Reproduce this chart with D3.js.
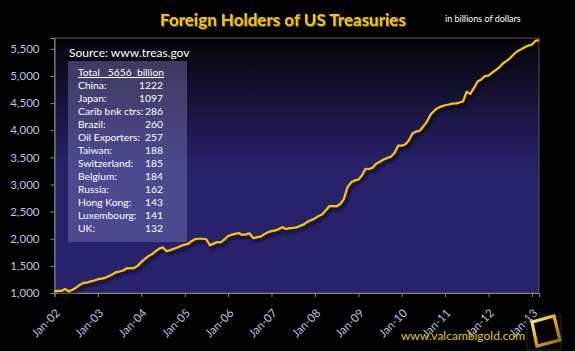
<!DOCTYPE html>
<html>
<head>
<meta charset="utf-8">
<script src="https://cdn.jsdelivr.net/npm/d3@7"></script>
<style>
  html, body { margin:0; padding:0; background:#000; }
  svg { display:block; font-family: Lato, "Open Sans", sans-serif; }
</style>
</head>
<body>
<div id="chart"></div>
<script>
// monthly totals, Jan-02 .. Mar-13 (billions of dollars)
const startMonth = new Date(2002, 0, 1);
const holdings = [
  1035,1040,1040,1075,1030,1060,1100,1150,1185,1190,1215,1230,
  1255,1265,1280,1310,1340,1385,1395,1415,1455,1460,1460,1500,
  1570,1630,1680,1715,1770,1820,1840,1770,1790,1815,1840,1870,
  1890,1910,1960,1995,2000,2000,1990,1880,1910,1940,1935,1990,
  2050,2075,2090,2105,2070,2080,2100,2010,2030,2040,2085,2120,
  2140,2155,2175,2215,2180,2195,2200,2210,2240,2265,2315,2345,
  2375,2420,2445,2520,2600,2600,2600,2640,2730,2950,3040,3075,
  3090,3170,3290,3285,3310,3385,3420,3460,3490,3510,3580,3715,
  3715,3740,3810,3940,3975,3990,4070,4160,4290,4360,4410,4440,
  4460,4475,4490,4495,4510,4530,4710,4670,4780,4900,4935,5000,
  5005,5060,5110,5160,5230,5280,5330,5400,5460,5490,5530,5560,
  5580,5650,5656
];

const yTicks = [1000,1500,2000,2500,3000,3500,4000,4500,5000,5500];

const holderNames  = ["China:","Japan:","Carib bnk ctrs:","Brazil:","Oil Exporters:","Taiwan:",
                      "Switzerland:","Belgium:","Russia:","Hong Kong:","Luxembourg:","UK:"];
const holderValues = [1222,1097,286,260,257,188,185,184,162,143,141,132];
const totalLabel = "Total   5656  billion";

const width = 575, height = 351;
const plot = {left:54.5, right:539, top:38, bottom:293};

const svg = d3.select("#chart").append("svg")
  .attr("width", width).attr("height", height);

const defs = svg.append("defs");
const bg = defs.append("linearGradient").attr("id","bg")
  .attr("x1","0%").attr("y1","0%").attr("x2","0%").attr("y2","100%");
bg.append("stop").attr("offset","0%").attr("stop-color","#050507");
bg.append("stop").attr("offset","50%").attr("stop-color","#27216a");
bg.append("stop").attr("offset","100%").attr("stop-color","#28226c");

const shadow = defs.append("filter").attr("id","shadow")
  .attr("x","-5%").attr("y","-5%").attr("width","110%").attr("height","115%");
shadow.append("feDropShadow").attr("dx",2).attr("dy",3)
  .attr("stdDeviation",1.4).attr("flood-color","#000").attr("flood-opacity",0.7);

const tshadow = defs.append("filter").attr("id","tshadow");
tshadow.append("feDropShadow").attr("dx",1).attr("dy",1)
  .attr("stdDeviation",0.6).attr("flood-color","#6b5200").attr("flood-opacity",1);

const gold = defs.append("linearGradient").attr("id","gold")
  .attr("x1","0%").attr("y1","0%").attr("x2","100%").attr("y2","100%");
gold.append("stop").attr("offset","0%").attr("stop-color","#fff2a0");
gold.append("stop").attr("offset","50%").attr("stop-color","#e0a800");
gold.append("stop").attr("offset","100%").attr("stop-color","#8a6000");

// scales
const dates = holdings.map((v,i) => d3.timeMonth.offset(startMonth, i));
const x = d3.scaleTime()
  .domain([startMonth, dates[dates.length-1]])
  .range([plot.left, plot.right]);
const y = d3.scaleLinear().domain([1000, 5700]).range([plot.bottom, plot.top]);

// plot area
svg.append("rect")
  .attr("x", plot.left).attr("y", plot.top)
  .attr("width", plot.right-plot.left).attr("height", plot.bottom-plot.top)
  .attr("fill","url(#bg)").attr("stroke","#555").attr("stroke-width",1);

// axes
const yAxis = svg.append("g")
  .attr("transform",`translate(${plot.left},0)`)
  .call(d3.axisLeft(y).tickValues(yTicks).tickFormat(d3.format(",")).tickSize(4).tickPadding(11));
const xAxis = svg.append("g")
  .attr("transform",`translate(0,${plot.bottom})`)
  .call(d3.axisBottom(x).ticks(d3.timeYear.every(1)).tickFormat(d3.timeFormat("%b-%y")).tickSize(4));

[yAxis, xAxis].forEach(g => {
  g.select(".domain").attr("stroke","#8a8a8a");
  g.selectAll(".tick line").attr("stroke","#8a8a8a");
  g.selectAll("text").attr("fill","#b9c3e0").style("font-size","11.5px")
    .style("font-family","Lato, sans-serif");
});
xAxis.selectAll("text")
  .attr("text-anchor","end")
  .attr("dy","0.35em")
  .attr("transform","translate(-2,13) rotate(-45)");

// line
const line = d3.line()
  .x((d,i) => x(dates[i]))
  .y(d => y(d));
svg.append("path")
  .datum(holdings)
  .attr("d", line)
  .attr("fill","none")
  .attr("stroke","#ffc400")
  .attr("stroke-width",2.2)
  .attr("stroke-linejoin","round")
  .attr("filter","url(#shadow)");

// title
svg.append("text")
  .attr("x", 283).attr("y", 26)
  .attr("text-anchor","middle")
  .attr("fill","#f7c600")
  .attr("filter","url(#tshadow)")
  .style("font-size","17px").style("font-weight","bold")
  .text("Foreign Holders of US Treasuries");
svg.append("text")
  .attr("x", 445).attr("y", 22)
  .attr("fill","#fff")
  .style("font-size","9px")
  .text("in billions of dollars");

// source + holders box
svg.append("text")
  .attr("x", 69).attr("y", 57)
  .attr("fill","#fff")
  .style("font-size","12px")
  .text("Source: www.treas.gov");

svg.append("rect")
  .attr("x", 68).attr("y", 61).attr("width", 119).attr("height", 181)
  .attr("fill","#8080c0").attr("fill-opacity",0.42);

const box = svg.append("g").style("font-size","10.3px").attr("fill","#fff");
box.append("text").attr("x",78).attr("y",76)
  .attr("text-decoration","underline")
  .style("white-space","pre")
  .attr("xml:space","preserve")
  .text(totalLabel);
box.selectAll("text.name").data(holderNames).join("text")
  .attr("class","name")
  .attr("x",78).attr("y",(d,i) => 89 + i*13)
  .text(d => d);
box.selectAll("text.val").data(holderValues).join("text")
  .attr("class","val")
  .attr("x",163).attr("y",(d,i) => 89 + i*13)
  .attr("text-anchor","end")
  .text(d => d);

// footer + logo
svg.append("text")
  .attr("x", 525).attr("y", 340)
  .attr("text-anchor","end")
  .attr("fill","#e2c800")
  .style("font-size","12px")
  .text("www.valcambigold.com");

svg.append("rect")
  .attr("x",527).attr("y",316).attr("width",34).attr("height",34)
  .attr("fill","none").attr("stroke","#333").attr("stroke-width",0.8);
svg.append("path")
  .attr("d","M532,322 L554,316 L560,340 L537,346 Z")
  .attr("fill","#000").attr("stroke","url(#gold)").attr("stroke-width",3.2)
  .attr("stroke-linejoin","miter");
</script>
</body>
</html>
